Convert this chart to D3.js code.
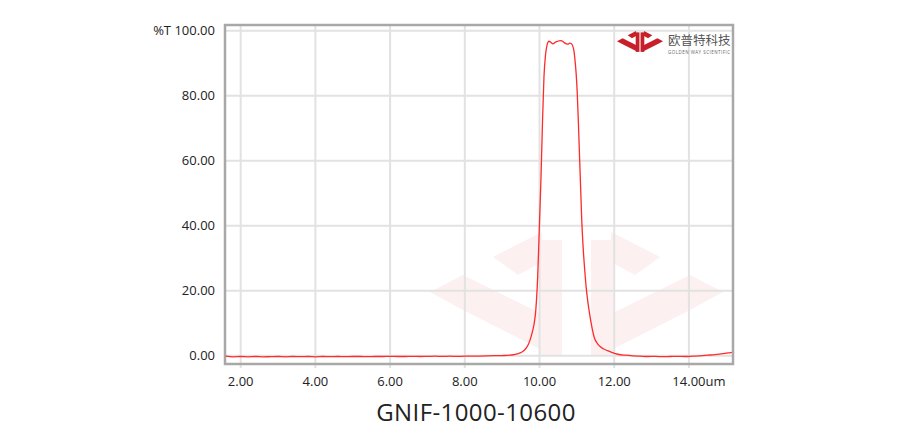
<!DOCTYPE html>
<html><head><meta charset="utf-8">
<script src="https://cdn.jsdelivr.net/npm/d3@7"></script>
<style>
html,body{margin:0;padding:0;background:#fff;}
svg{display:block;font-family:"Open Sans","Noto Sans",sans-serif;}
</style></head>
<body><svg id="c" width="924" height="440"></svg>
<script>
// ---- data ----
const wavelength = [1.60,1.80,2.00,2.20,2.40,2.60,2.80,3.00,3.20,3.40,3.60,3.80,4.00,4.20,4.40,4.60,4.80,5.00,5.20,5.40,5.60,5.80,6.00,6.20,6.40,6.60,6.80,7.00,7.20,7.40,7.60,7.80,8.00,8.20,8.40,8.60,8.80,9.00,
 9.20,9.30,9.40,9.50,9.60,9.70,9.75,9.80,9.85,9.90,9.95,10.00,10.04,10.08,10.12,10.16,10.20,10.25,10.30,10.36,10.42,10.49,10.55,10.60,10.67,10.72,10.76,10.81,10.85,10.89,10.92,10.95,10.98,11.01,11.04,11.07,11.10,11.13,11.17,11.21,11.25,11.29,11.34,11.40,11.47,11.55,11.63,11.72,11.82,11.95,12.10,12.30,
 12.50,12.70,12.90,13.10,13.30,13.50,13.70,13.90,14.10,14.30,14.50,14.70,14.90,15.05,15.15];
const transmission = [-0.1,-0.3,-0.2,-0.3,-0.2,-0.3,-0.25,-0.2,-0.3,-0.2,-0.25,-0.2,-0.3,-0.2,-0.25,-0.2,-0.25,-0.2,-0.2,-0.25,-0.2,-0.2,-0.15,-0.2,-0.2,-0.15,-0.2,-0.15,-0.1,-0.15,-0.1,-0.15,-0.1,-0.1,-0.05,0.0,0.05,0.1,
 0.2,0.35,0.6,1.0,1.8,3.5,5.0,7.0,9.5,14,24,41,55,72,86,92.5,95.5,96.8,96.5,96.0,96.5,96.8,97.0,96.9,96.3,96.0,95.9,96.2,96.1,95.3,94,91,87,81,72,62,52,42,33,26.5,21,17,13,9,5.5,3.8,2.8,2.1,1.6,1.0,0.5,0.2,
 0.0,-0.1,-0.2,-0.15,-0.25,-0.2,-0.15,-0.2,-0.1,0.0,0.2,0.4,0.7,0.9,1.1];
const xTicks = [2,4,6,8,10,12,14];
const yTicks = [0,20,40,60,80,100];
const xUnit = "um";
const yPrefix = "%T ";
const title = "GNIF-1000-10600";

// ---- layout ----
const svg = d3.select("#c");
const L = 225, R = 733, T = 25, B = 364;
const x = d3.scaleLinear().domain([1.58, 15.18]).range([L, R]);
const y = d3.scaleLinear().domain([-2.5, 101.8]).range([B, T]);

// watermark (decorative logo)
function logoHalf(g, fill){
  g.append("rect").attr("x",110).attr("y",8).attr("width",22).attr("height",115).attr("fill",fill);
  g.append("polygon").attr("points","63,25 112,0 112,30 88,43").attr("fill",fill);
  g.append("polygon").attr("points","0,60 33,43 112,82 112,118 33,78").attr("fill",fill);
}
const wm = svg.append("g");
const wmL = wm.append("g").attr("transform","translate(430,232)");
logoHalf(wmL,"#fcf0f0");
const wmR = wm.append("g").attr("transform","translate(723,232) scale(-1,1)");
logoHalf(wmR,"#fcf0f0");

// grid
const grid = svg.append("g");
grid.selectAll("line.v").data(xTicks).join("line")
  .attr("x1",d=>x(d)).attr("x2",d=>x(d)).attr("y1",T).attr("y2",B+4)
  .attr("stroke","#e2e2e2").attr("stroke-width",2);
grid.selectAll("line.h").data(yTicks).join("line")
  .attr("x1",L).attr("x2",R).attr("y1",d=>y(d)).attr("y2",d=>y(d))
  .attr("stroke","#e2e2e2").attr("stroke-width",2);

// frame
svg.append("rect").attr("x",L).attr("y",T).attr("width",R-L).attr("height",B-T)
  .attr("fill","none").attr("stroke","#a8a8a8").attr("stroke-width",2.5);

// top-right logo
const lg = svg.append("g");
const lgL = lg.append("g").attr("transform","translate(617,31) scale(0.17)");
logoHalf(lgL,"#c8202a");
const lgR = lg.append("g").attr("transform","translate(663,31) scale(-0.17,0.17)");
logoHalf(lgR,"#c8202a");
lg.append("text").attr("x",668).attr("y",45).attr("font-size",12.5).attr("fill","#555")
  .attr("font-family","'Noto Sans CJK SC',sans-serif").text("欧普特科技");
lg.append("text").attr("x",668).attr("y",54).attr("font-size",4.5).attr("fill","#666")
  .attr("textLength",62).text("GOLDEN WAY SCIENTIFIC");

// curve
const pts = wavelength.map((w,i)=>[w,transmission[i]]);
svg.append("path").datum(pts)
  .attr("d", d3.line().x(d=>x(d[0])).y(d=>y(d[1])).curve(d3.curveMonotoneX))
  .attr("fill","none").attr("stroke","#ff2a2a").attr("stroke-width",1.3);

// y labels
svg.append("g").selectAll("text").data(yTicks).join("text")
  .attr("x",215).attr("y",d=>y(d)+4.5).attr("text-anchor","end")
  .attr("font-size",13).attr("fill","#222")
  .text(d=> (d===100? yPrefix:"") + d3.format(".2f")(d));

// x labels
const fmt = d3.format(".2f");
const xl = svg.append("g");
xTicks.forEach((d,i)=>{
  const t = xl.append("text").attr("y",386).attr("font-size",13).attr("fill","#222");
  if(i===xTicks.length-1){
    t.attr("x",x(d)).attr("text-anchor","start").text(fmt(d)+xUnit);
    const tmp = xl.append("text").attr("font-size",13).text(fmt(d));
    const w = tmp.node().getComputedTextLength(); tmp.remove();
    t.attr("x",x(d)-w/2);
  } else {
    t.attr("x",x(d)).attr("text-anchor","middle").text(fmt(d));
  }
});

// title
svg.append("text").attr("x",476).attr("y",421).attr("text-anchor","middle")
  .attr("font-size",24).attr("letter-spacing",0.4).attr("fill","#222").text(title);
</script></body></html>
